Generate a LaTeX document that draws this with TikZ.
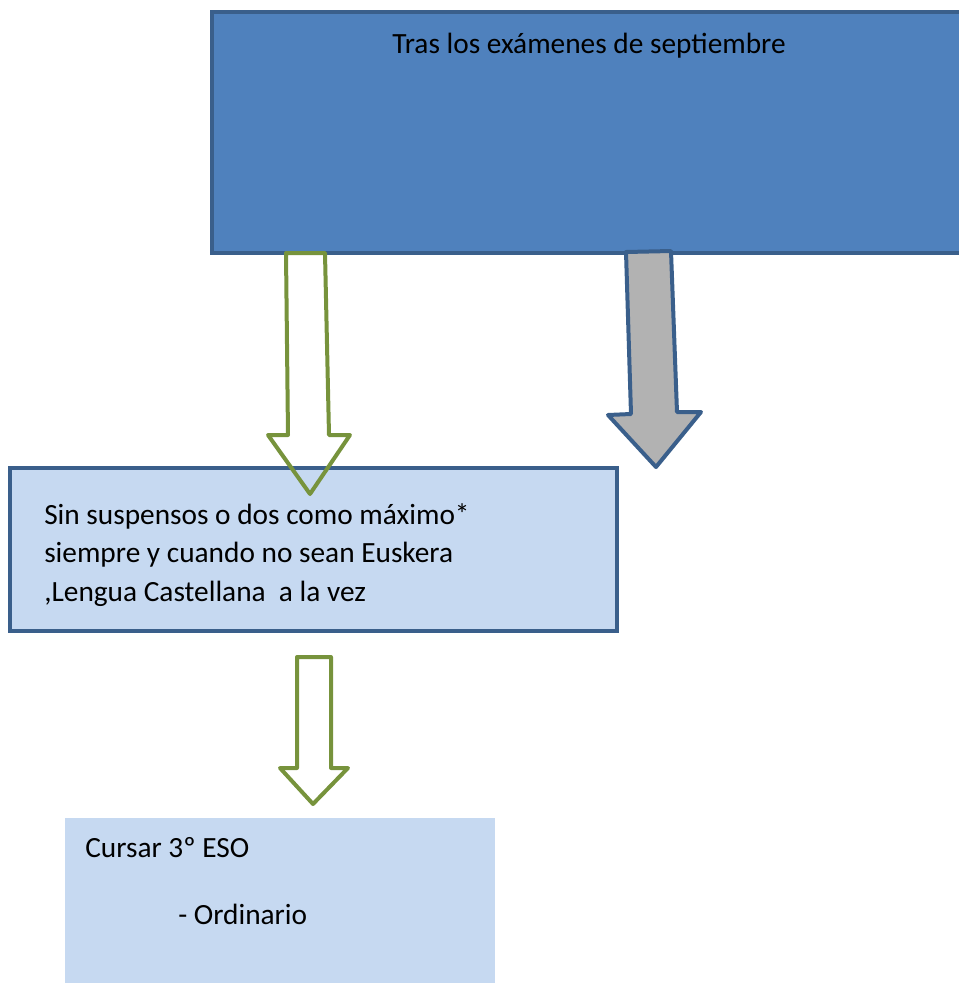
\documentclass[tikz,border=0pt]{standalone}
\usepackage{fontspec}
\setmainfont{Carlito}
\usepackage{tikz}
\definecolor{boxblue}{HTML}{4F81BD}
\definecolor{boxline}{HTML}{3A5F8B}
\definecolor{lightblue}{HTML}{C6D9F1}
\definecolor{arrgreen}{HTML}{77933C}
\definecolor{arrgray}{HTML}{B2B2B2}
\tikzset{
  txt/.style={inner sep=0pt, font=\fontsize{22}{28.5}\selectfont, text=black},
  greenarr/.style={draw=arrgreen, line width=3pt, line join=round},
  grayarr/.style={draw=boxline, line width=3pt, fill=arrgray, line join=round}
}

\begin{document}
\begin{tikzpicture}[x=0.75pt, y=-0.75pt]
			%%%%% START %%%%%
			\useasboundingbox (0, 0) rectangle (959, 983);
			\clip (0, 0) rectangle (959, 983);
			
			% top box
			\draw[fill=boxblue, draw=boxline, line width=3pt] (212, 12) rectangle (975, 253);
			\node[txt, anchor=base] (tras) at (589, 53) {Tras los exámenes de septiembre};
			
			% middle box
			\draw[fill=lightblue, draw=boxline, line width=3pt] (10, 468) rectangle (617, 631);
			\node[txt, anchor=base west] (sin) at (44, 524) {Sin suspensos o dos como máximo*};
			\node[txt, anchor=base west] (siempre) at (44, 562) {siempre y cuando no sean Euskera};
			\node[txt, anchor=base west] (lengua) at (44, 601) {,Lengua Castellana\ \ a la vez};
			
			% arrows out of the top box
			\draw[greenarr] (286, 253) -- (325, 253) -- (329, 435) -- (350, 435) -- (310, 494) -- (268, 435) -- (288, 435) -- cycle;
			\draw[grayarr] (626, 252) -- (671, 251) -- (677, 412) -- (701, 412) -- (656, 467) -- (608, 415) -- (631, 414) -- cycle;
			
			% lower arrow
			\draw[greenarr] (297, 657) -- (331, 657) -- (331, 768) -- (348, 768) -- (313, 804) -- (280, 768) -- (297, 768) -- cycle;
			
			% bottom box
			\fill[lightblue] (65, 818) rectangle (495, 990);
			\node[txt, anchor=base west] (cursar) at (85, 857) {Cursar 3º ESO};
			\node[txt, anchor=base west] (ordinario) at (178, 924) {- Ordinario};
			%%%%% END %%%%%
\end{tikzpicture}
\end{document}
